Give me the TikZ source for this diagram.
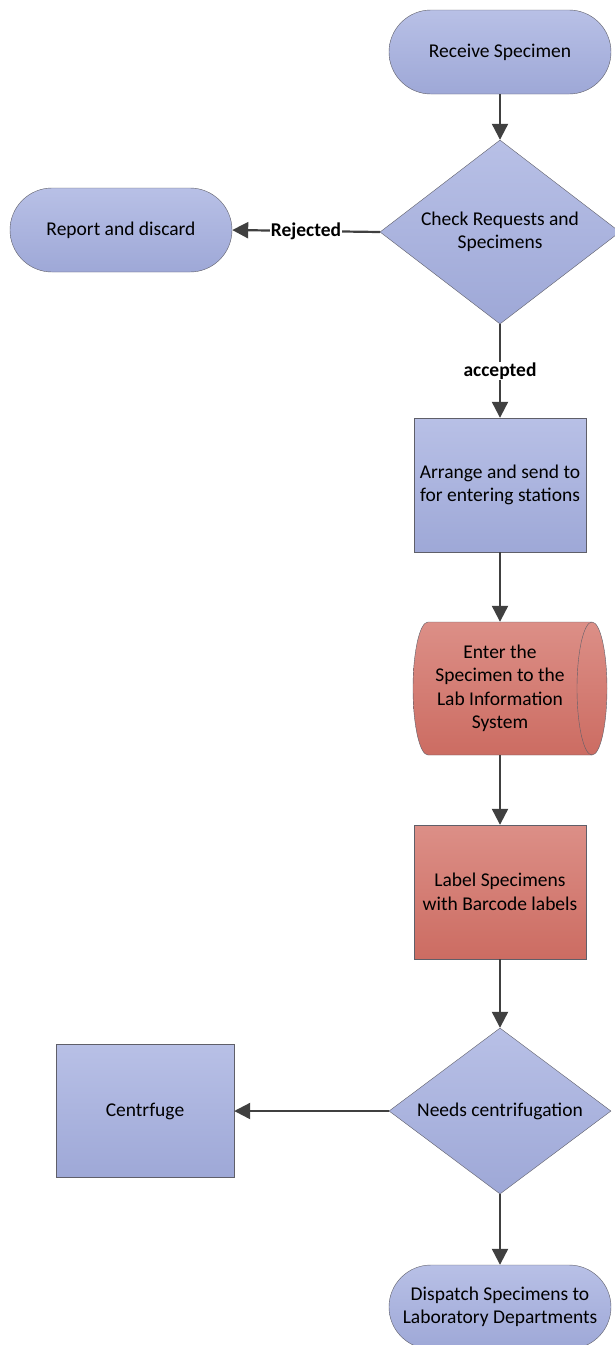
\documentclass[tikz,border=0pt]{standalone}
\usepackage{fontspec}
\setmainfont{Carlito}
\usetikzlibrary{shapes.geometric,arrows.meta}

\definecolor{bluetop}{RGB}{184,192,230}
\definecolor{bluebot}{RGB}{158,168,215}
\definecolor{redtop}{RGB}{220,143,135}
\definecolor{redbot}{RGB}{204,108,98}
\definecolor{edgegray}{RGB}{95,95,105}
\definecolor{arrowgray}{RGB}{64,64,64}

\tikzset{
  term/.style={rectangle, rounded corners=42pt, draw=edgegray, top color=bluetop,
    bottom color=bluebot, minimum width=222pt, minimum height=84pt, align=center},
  decision/.style={diamond, draw=edgegray, top color=bluetop, bottom color=bluebot,
    aspect=1.3, inner sep=0pt, align=center},
  procbox/.style={rectangle, draw=edgegray, minimum width=172pt, minimum height=134pt,
    align=center},
  flow/.style={draw=arrowgray, line width=2.2pt, -{Triangle[length=16pt,width=16pt]}},
  tag/.style={fill=white, inner sep=1pt, font=\fontsize{19.5}{23}\selectfont\bfseries}
}

\begin{document}
\begin{tikzpicture}[x=1pt, y=-1pt, every node/.style={font=\fontsize{19.5}{23.5}\selectfont}]
  \useasboundingbox (0,0) rectangle (615,1345);

  % stored data drum
  \shade[draw=edgegray, top color=redtop, bottom color=redbot]
    (428,622) -- (592,622) arc[start angle=-90, end angle=90, x radius=15, y radius=66.5]
    -- (428,755) arc[start angle=90, end angle=270, x radius=15, y radius=66.5] -- cycle;
  \draw[edgegray] (592,622) arc[start angle=-90, end angle=-270, x radius=15, y radius=66.5];

  % main column
  \node[term] (receive) at (500,52) {Receive Specimen};
  \node[decision, minimum width=240pt, minimum height=184pt] (check) at (500,232)
    {Check Requests and\\Specimens};
  \node[procbox, top color=bluetop, bottom color=bluebot] (arrange) at (500,485)
    {Arrange and send to\\for entering stations};
  \node[align=center, minimum height=133pt] (enter) at (500,688.5)
    {Enter the\\Specimen to the\\Lab Information\\System};
  \node[procbox, top color=redtop, bottom color=redbot] (label) at (500,892)
    {Label Specimens\\with Barcode labels};
  \node[decision, minimum width=222pt, minimum height=166pt] (needs) at (500,1111)
    {Needs centrifugation};
  \node[term] (dispatch) at (500,1307) {Dispatch Specimens to\\Laboratory Departments};

  % side boxes
  \node[term] (report) at (121,230) {Report and discard};
  \node[procbox, minimum width=178pt, minimum height=133pt, top color=bluetop,
    bottom color=bluebot] (centrifuge) at (145,1111) {Centrfuge};

  % connectors
  \draw[flow] (receive) -- (check);
  \draw[flow] (check.west) -- node[tag] {Rejected} (report.east);
  \draw[flow] (check.south) -- node[tag] {accepted} (arrange.north);
  \draw[flow] (arrange) -- (enter);
  \draw[flow] (enter) -- (label);
  \draw[flow] (label.south) -- (needs.north);
  \draw[flow] (needs.west) -- (centrifuge.east);
  \draw[flow] (needs.south) -- (dispatch.north);
\end{tikzpicture}
\end{document}
